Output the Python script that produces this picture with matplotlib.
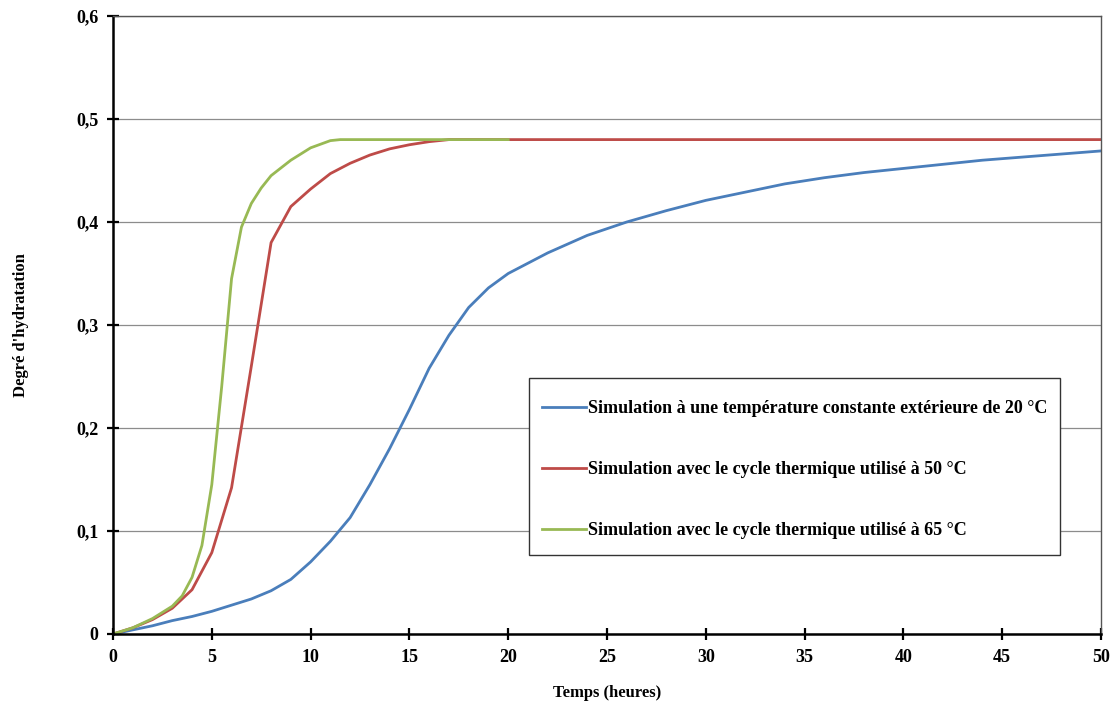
import numpy as np
import matplotlib
matplotlib.use("Agg")
import matplotlib.pyplot as plt
from matplotlib.ticker import FuncFormatter, MultipleLocator
from matplotlib.patches import Rectangle

# data
t_blue = [0, 1, 2, 3, 4, 5, 6, 7, 8, 9, 10, 11, 12, 13, 14, 15, 16, 17, 18, 19, 20,
          22, 24, 26, 28, 30, 32, 34, 36, 38, 40, 42, 44, 46, 48, 50]
y_blue = [0, 0.004, 0.008, 0.013, 0.017, 0.022, 0.028, 0.034, 0.042, 0.053, 0.07,
          0.09, 0.113, 0.145, 0.18, 0.218, 0.258, 0.29, 0.317, 0.336, 0.35,
          0.37, 0.387, 0.40, 0.411, 0.421, 0.429, 0.437, 0.443, 0.448, 0.452,
          0.456, 0.46, 0.463, 0.466, 0.469]

t_red = [0, 1, 2, 3, 4, 5, 6, 7, 8, 9, 10, 11, 12, 13, 14, 15, 16, 17, 20, 30, 40, 50]
y_red = [0, 0.006, 0.014, 0.025, 0.043, 0.079, 0.142, 0.26, 0.38, 0.415, 0.432,
         0.447, 0.457, 0.465, 0.471, 0.475, 0.478, 0.48, 0.48, 0.48, 0.48, 0.48]

t_green = [0, 1, 2, 3, 3.5, 4, 4.5, 5, 5.5, 6, 6.5, 7, 7.5, 8, 9, 10, 11, 11.5, 15, 20]
y_green = [0, 0.006, 0.015, 0.027, 0.037, 0.055, 0.086, 0.145, 0.24, 0.345, 0.395,
           0.418, 0.433, 0.445, 0.46, 0.472, 0.479, 0.48, 0.48, 0.48]

labels = ["Simulation à une température constante extérieure de 20 °C",
          "Simulation avec le cycle thermique utilisé à 50 °C",
          "Simulation avec le cycle thermique utilisé à 65 °C"]
colors = ["#4A7EBB", "#BE4B48", "#98B954"]

plt.rcParams['font.family'] = ['Liberation Serif', 'DejaVu Serif']
plt.rcParams['font.weight'] = 'bold'

fig = plt.figure(figsize=(11.11, 7.03), dpi=100)
ax = fig.add_axes([113 / 1111, 69 / 703, 988 / 1111, 618 / 703])

ax.plot(t_blue, y_blue, color=colors[0], lw=2.0, label=labels[0])
ax.plot(t_red, y_red, color=colors[1], lw=2.0, label=labels[1])
ax.plot(t_green, y_green, color=colors[2], lw=2.0, label=labels[2])

ax.set_xlim(0, 50)
ax.set_ylim(0, 0.6)
ax.xaxis.set_major_locator(MultipleLocator(5))
ax.yaxis.set_major_locator(MultipleLocator(0.1))
ax.yaxis.set_major_formatter(FuncFormatter(
    lambda v, p: "0" if abs(v) < 1e-9 else ("%.1f" % v).replace(".", ",")))

ax.grid(axis='y', color='#8c8c8c', lw=0.9)
ax.set_axisbelow(True)
for s in ['left', 'bottom']:
    ax.spines[s].set_linewidth(1.8)
    ax.spines[s].set_color('black')
for s in ['top', 'right']:
    ax.spines[s].set_linewidth(1.0)
    ax.spines[s].set_color('#555555')
ax.tick_params(direction='inout', length=9, width=1.6, labelsize=13, pad=6)

ax.set_xlabel("Temps (heures)", fontsize=12, fontweight='bold', labelpad=14)
ax.set_ylabel("Degré d'hydratation", fontsize=12, fontweight='bold', labelpad=34)

# legend frame box
ax.add_patch(Rectangle((0.421, 0.128), 0.5375, 0.286, transform=ax.transAxes,
                       facecolor='white', edgecolor='#333333', lw=1.0, zorder=4))
leg = ax.legend(loc='center', bbox_to_anchor=(0.690, 0.266), frameon=False,
                labelspacing=2.45, handlelength=2.4, handletextpad=0.1,
                prop={'weight': 'bold', 'size': 13})
leg.set_zorder(5)

fig.savefig("out.png", dpi=100)
